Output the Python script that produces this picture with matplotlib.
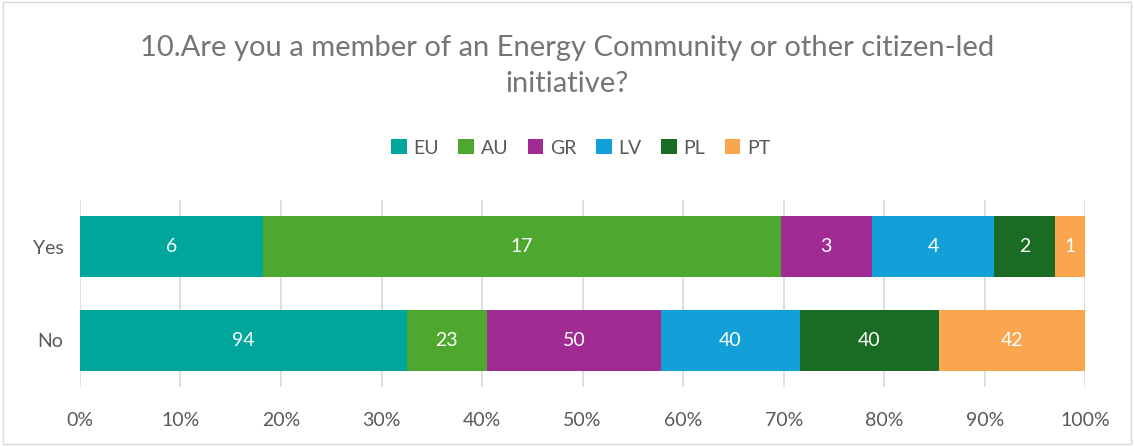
import numpy as np
import matplotlib.pyplot as plt

plt.rcParams['font.family'] = ['Lato', 'DejaVu Sans']

categories = ['Yes', 'No']
countries = ['EU', 'AU', 'GR', 'LV', 'PL', 'PT']
counts = {
    'EU': [6, 94],
    'AU': [17, 23],
    'GR': [3, 50],
    'LV': [4, 40],
    'PL': [2, 40],
    'PT': [1, 42],
}
colors = ['#00A59B', '#4EA72E', '#A02B93', '#139FD8', '#1A6B24', '#FAA64E']

fig = plt.figure(figsize=(11.34, 4.46), dpi=100)
ax = fig.add_axes([0.0705, 0.132, 0.8865, 0.42])

totals = np.sum([counts[c] for c in countries], axis=0)
ypos = np.arange(len(categories))
left = np.zeros(len(categories))
for c, col in zip(countries, colors):
    vals = np.array(counts[c], dtype=float)
    share = vals / totals
    ax.barh(ypos, share, left=left, height=0.65, color=col, label=c, zorder=3)
    for y, v, s, l in zip(ypos, vals, share, left):
        ax.text(l + s / 2, y, f'{int(v)}', ha='center', va='center',
                color='white', fontsize=14, zorder=4)
    left += share

ax.set_xlim(0, 1)
ax.set_ylim(1.5, -0.5)
ax.set_yticks(ypos)
ax.set_yticklabels(categories, fontsize=14, color='#595959')
ax.set_xticks(np.arange(0, 1.01, 0.1))
ax.set_xticklabels([f'{int(round(t * 100))}%' for t in np.arange(0, 1.01, 0.1)],
                   fontsize=14, color='#595959')
ax.tick_params(length=0, pad=18)
ax.tick_params(axis='y', pad=12)
ax.grid(axis='x', color='#D9D9D9', linewidth=1.2, zorder=0)
for s in ax.spines.values():
    s.set_visible(False)

fig.text(0.5, 0.852, '10.Are you a member of an Energy Community or other citizen-led\ninitiative?',
         ha='center', va='center', fontsize=21, color='#757575', linespacing=1.45)
fig.legend(loc='center', bbox_to_anchor=(0.512, 0.668), ncol=6, frameon=False,
           fontsize=14, labelcolor='#595959', handlelength=0.8, handleheight=0.8,
           handletextpad=0.35, columnspacing=1.0)

border = plt.Rectangle((0.003, 0.004), 0.994, 0.992, transform=fig.transFigure,
                       fill=False, edgecolor='#D9D9D9', linewidth=1)
fig.patches.append(border)

fig.savefig('out.png', dpi=100)
